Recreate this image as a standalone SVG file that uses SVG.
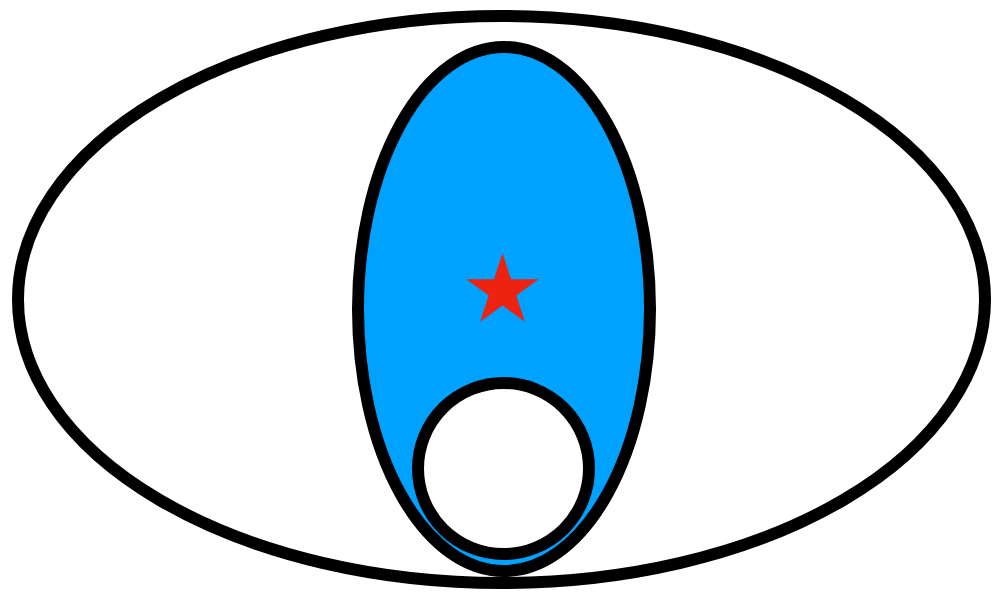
<svg xmlns="http://www.w3.org/2000/svg" width="993" height="593" viewBox="0 0 993 593">
  <style>
    .outline { stroke: #000000; stroke-width: 12; }
  </style>
  <rect x="0" y="0" width="993" height="593" fill="#ffffff"/>
  <g id="outer-ellipse">
    <ellipse class="outline" cx="501.5" cy="299.5" rx="483.5" ry="283.5" fill="#ffffff"/>
  </g>
  <g id="blue-ellipse">
    <ellipse class="outline" cx="504" cy="309" rx="146" ry="262" fill="#00a2ff"/>
  </g>
  <g id="small-circle">
    <circle class="outline" cx="503.5" cy="468.5" r="85.5" fill="#ffffff"/>
  </g>
  <g id="star">
    <polygon fill="#ee2211" points="502.5,253 511.03,279.25 538.64,279.26 516.31,295.49 524.84,321.74 502.5,305.52 480.16,321.74 488.69,295.49 466.36,279.26 493.97,279.25"/>
  </g>
  <g id="connectors"></g>
</svg>
